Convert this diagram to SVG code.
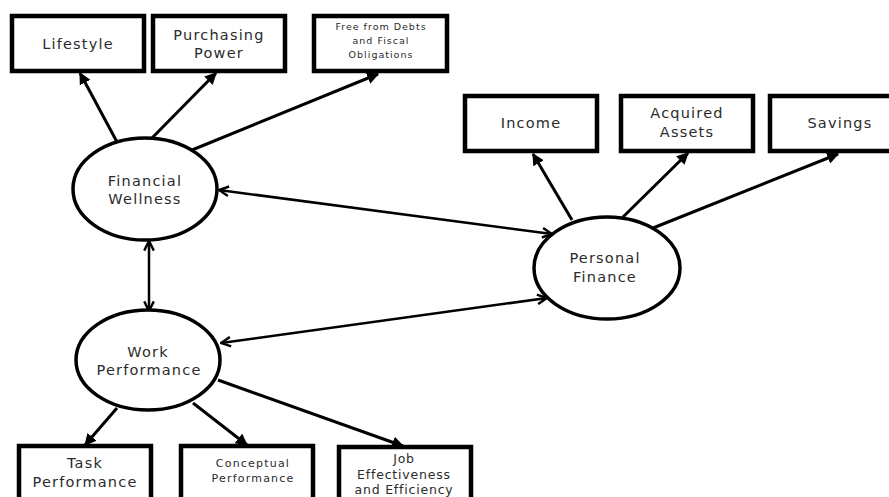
<svg xmlns="http://www.w3.org/2000/svg" width="889" height="497" viewBox="0 0 889 497">
<style>
.box{fill:#fff;stroke:#000;stroke-width:4.5}
.ell{fill:#fff;stroke:#000;stroke-width:3.5}
.t{font-family:"DejaVu Sans","Liberation Sans",sans-serif;fill:#2b2b2b;text-anchor:middle}
.s14{font-size:14.5px;letter-spacing:1.2px}
.s13{font-size:12.5px;letter-spacing:0.8px}
.s11{font-size:11px;letter-spacing:1.2px}
.s10{font-size:9.5px;letter-spacing:1px}
.out{stroke:#000;stroke-width:3;fill:none;marker-end:url(#tri)}
.bi{stroke:#000;stroke-width:2.5;fill:none;marker-start:url(#vs);marker-end:url(#ve)}
</style>
<defs>
<marker id="tri" markerUnits="userSpaceOnUse" markerWidth="12" markerHeight="12" refX="9" refY="5" orient="auto" viewBox="0 0 10 10">
<path d="M0,0 L10,5 L0,10 z" fill="#000"/>
</marker>
<marker id="ve" markerUnits="userSpaceOnUse" markerWidth="12" markerHeight="12" refX="9" refY="5" orient="auto" viewBox="0 0 10 10">
<path d="M1,1 L9,5 L1,9" fill="none" stroke="#000" stroke-width="2"/>
</marker>
<marker id="vs" markerUnits="userSpaceOnUse" markerWidth="12" markerHeight="12" refX="1" refY="5" orient="auto" viewBox="0 0 10 10">
<path d="M9,1 L1,5 L9,9" fill="none" stroke="#000" stroke-width="2"/>
</marker>
</defs>
<rect width="889" height="497" fill="#fff"/>
<g id="connectors">
<line class="out" x1="117" y1="142" x2="80" y2="73"/>
<line class="out" x1="152" y1="138" x2="216" y2="73"/>
<line class="out" x1="192" y1="150" x2="378" y2="74"/>
<line class="out" x1="572" y1="220" x2="533" y2="154"/>
<line class="out" x1="623" y1="217" x2="688" y2="153"/>
<line class="out" x1="653" y1="228" x2="838" y2="154"/>
<line class="out" x1="117" y1="408" x2="85" y2="445"/>
<line class="out" x1="193" y1="403" x2="247" y2="445"/>
<line class="out" x1="218" y1="380" x2="403" y2="446"/>
<line class="bi" x1="219" y1="190" x2="552" y2="234"/>
<line class="bi" x1="221" y1="343" x2="547" y2="298"/>
<line class="bi" x1="149" y1="241" x2="149" y2="311"/>
</g>
<g id="lifestyle"><rect class="box" x="12" y="16" width="132" height="55"/><text class="t s14" x="78" y="49">Lifestyle</text></g>
<g id="purchasing-power"><rect class="box" x="153" y="16" width="132" height="55"/><text class="t s14" x="219" y="40">Purchasing</text><text class="t s14" x="219" y="58">Power</text></g>
<g id="free-from-debts"><rect class="box" x="314" y="16" width="133" height="55"/><text class="t s10" x="381" y="30">Free from Debts</text><text class="t s10" x="381" y="44">and Fiscal</text><text class="t s10" x="381" y="58">Obligations</text></g>
<g id="financial-wellness"><ellipse class="ell" cx="145" cy="189" rx="72" ry="51"/><text class="t s14" x="145" y="186">Financial</text><text class="t s14" x="145" y="204">Wellness</text></g>
<g id="income"><rect class="box" x="465" y="96" width="132" height="55"/><text class="t s14" x="531" y="128">Income</text></g>
<g id="acquired-assets"><rect class="box" x="621" y="96" width="132" height="55"/><text class="t s14" x="687" y="118">Acquired</text><text class="t s14" x="687" y="137">Assets</text></g>
<g id="savings"><rect class="box" x="770" y="96" width="135" height="55"/><text class="t s14" x="840" y="128">Savings</text></g>
<g id="personal-finance"><ellipse class="ell" cx="607" cy="268" rx="73" ry="51"/><text class="t s14" x="605" y="263">Personal</text><text class="t s14" x="605" y="282">Finance</text></g>
<g id="work-performance"><ellipse class="ell" cx="148" cy="360" rx="72" ry="50"/><text class="t s14" x="148" y="357">Work</text><text class="t s14" x="149" y="375">Performance</text></g>
<g id="task-performance"><rect class="box" x="19" y="446" width="132" height="60"/><text class="t s14" x="85" y="468">Task</text><text class="t s14" x="85" y="487">Performance</text></g>
<g id="conceptual-performance"><rect class="box" x="181" y="446" width="132" height="60"/><text class="t s11" x="253" y="467">Conceptual</text><text class="t s11" x="253" y="482">Performance</text></g>
<g id="job-effectiveness"><rect class="box" x="339" y="447" width="132" height="60"/><text class="t s13" x="404" y="463">Job</text><text class="t s13" x="404" y="479">Effectiveness</text><text class="t s13" x="404" y="494">and Efficiency</text></g>
</svg>
